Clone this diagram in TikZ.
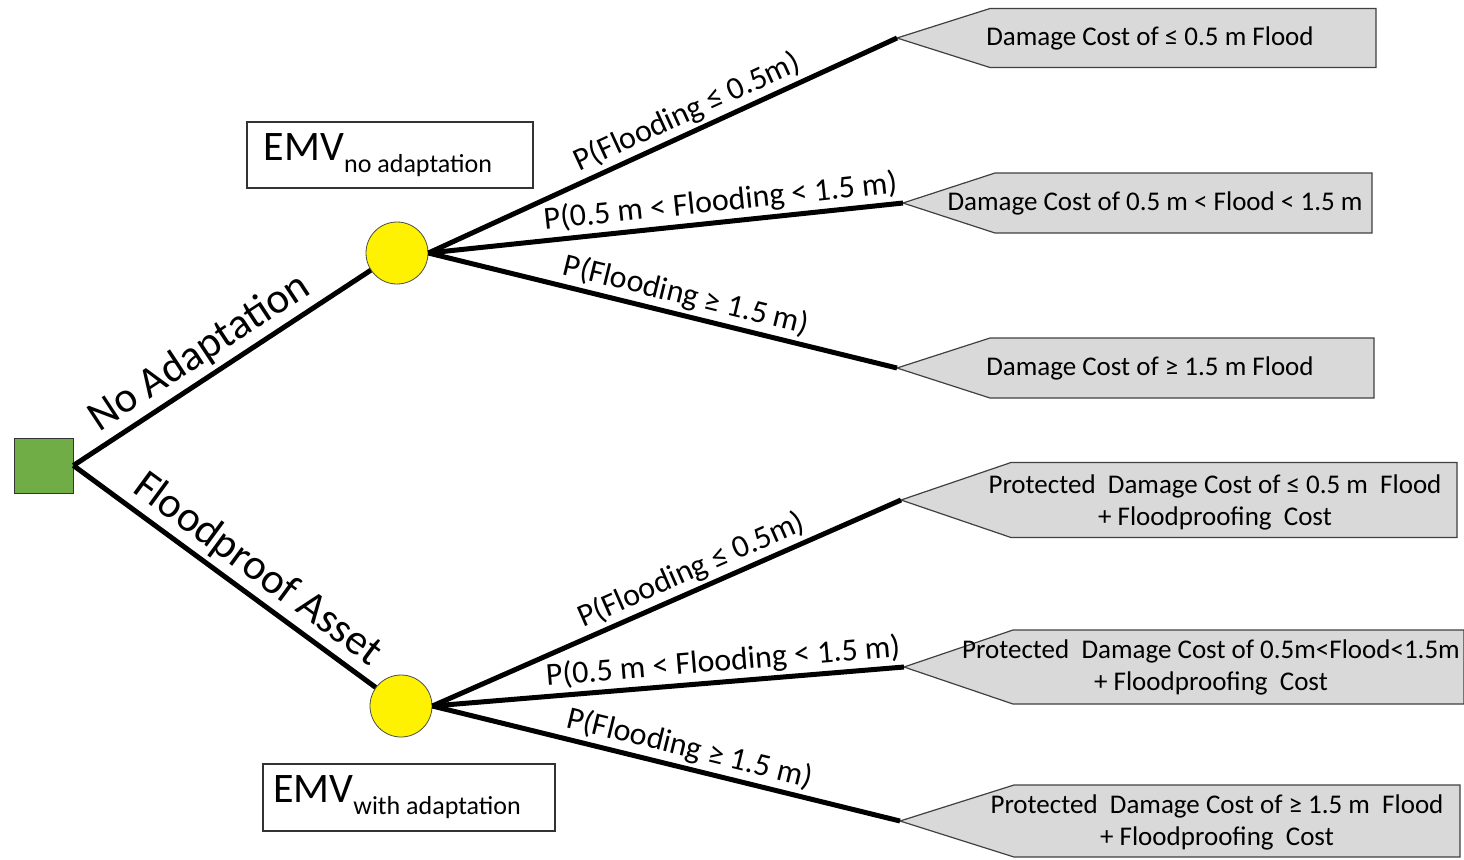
\documentclass[tikz,border=0pt]{standalone}
\usepackage{fontspec}
\setmainfont{Carlito}
\usepackage{tikz}
\definecolor{decgreen}{HTML}{70AD47}
\definecolor{boxgrey}{HTML}{D9D9D9}
\definecolor{edgegrey}{HTML}{404040}
\newcommand{\emvsub}[1]{\raisebox{-6pt}{\fontsize{13}{15}\selectfont #1}\kern12pt}
% tip, corner offset, width, half height
\newcommand{\payoffbox}[4]{\draw[payoff] (#1) -- ++(#2,-#4) -- ++(#3,0) -- ++(0,2*#4) -- ++(-#3,0) -- cycle;}

\begin{document}
\begin{tikzpicture}[x=0.5pt,y=-0.5pt]
	\tikzset{
		decision/.style={draw=black!80,fill=decgreen,minimum width=29.5pt,minimum height=27.5pt,inner sep=0pt},
		chance/.style={circle,draw=black!70,fill=yellow,minimum size=31pt,inner sep=0pt},
		branch/.style={line width=2.5pt,black},
		payoff/.style={draw=edgegrey,fill=boxgrey,line width=0.6pt},
		paytext/.style={font=\fontsize{13.5}{16}\selectfont,align=center,inner sep=0pt},
		prob/.style={font=\fontsize{16}{19}\selectfont,sloped,above,inner sep=1.5pt},
		act/.style={font=\fontsize{21.5}{25}\selectfont,sloped,above,inner sep=2pt},
		emv/.style={draw=black!80,line width=0.8pt,font=\fontsize{21}{25}\selectfont,inner sep=0pt}
	}
	\useasboundingbox (0,0) rectangle (1464,859);
	% decision and chance nodes
	\node[decision] (dec) at (43.5,465.5) {};
	\node[chance] (c1) at (397,253) {};
	\node[chance] (c2) at (401,706) {};
	\node[emv,minimum width=143pt,minimum height=33pt] (emv1) at (390,155) {EMV\emvsub{no adaptation}};
	\node[emv,minimum width=146pt,minimum height=33.5pt] (emv2) at (409,797.5) {EMV\emvsub{with adaptation}};
	% payoff tips
	\coordinate (t1) at (897,38);
	\coordinate (t2) at (903,203);
	\coordinate (t3) at (897,368);
	\coordinate (t4) at (901,500);
	\coordinate (t5) at (904,667);
	\coordinate (t6) at (900,821);
	\payoffbox{t1}{93}{386}{29.5}
	\payoffbox{t2}{92}{377}{30}
	\payoffbox{t3}{93}{384}{30}
	\payoffbox{t4}{110}{446}{37.5}
	\payoffbox{t5}{109}{451}{37}
	\payoffbox{t6}{114}{446}{36}
	\node[paytext] (p1) at (1150,38) {Damage Cost of ≤ 0.5 m Flood};
	\node[paytext] (p2) at (1155,203) {Damage Cost of 0.5 m < Flood < 1.5 m};
	\node[paytext] (p3) at (1150,368) {Damage Cost of ≥ 1.5 m Flood};
	\node[paytext] (p4) at (1215,502) {Protected\ \ Damage Cost of ≤ 0.5 m\ \ Flood\\+ Floodproofing\ \ Cost};
	\node[paytext] (p5) at (1211,667) {Protected\ \ Damage Cost of 0.5m<Flood<1.5m\\+ Floodproofing\ \ Cost};
	\node[paytext] (p6) at (1217,822) {Protected\ \ Damage Cost of ≥ 1.5 m\ \ Flood\\+ Floodproofing\ \ Cost};
	% branches
	\draw[branch] (dec.east) -- node[act,pos=0.47] {No Adaptation} (c1);
	\draw[branch] (dec.east) -- node[act,pos=0.56] {Floodproof Asset} (c2);
	\draw[branch] (c1.east) -- node[prob,pos=0.57] {P(Flooding ≤ 0.5m)} (t1);
	\draw[branch] (c1.east) -- node[prob,pos=0.62] {P(0.5 m < Flooding < 1.5 m)} (t2);
	\draw[branch] (c1.east) -- node[prob,pos=0.54] {P(Flooding ≥ 1.5 m)} (t3);
	\draw[branch] (c2.east) -- node[prob,pos=0.57] {P(Flooding ≤ 0.5m)} (t4);
	\draw[branch] (c2.east) -- node[prob,pos=0.62] {P(0.5 m < Flooding < 1.5 m)} (t5);
	\draw[branch] (c2.east) -- node[prob,pos=0.54] {P(Flooding ≥ 1.5 m)} (t6);
\end{tikzpicture}
\end{document}
